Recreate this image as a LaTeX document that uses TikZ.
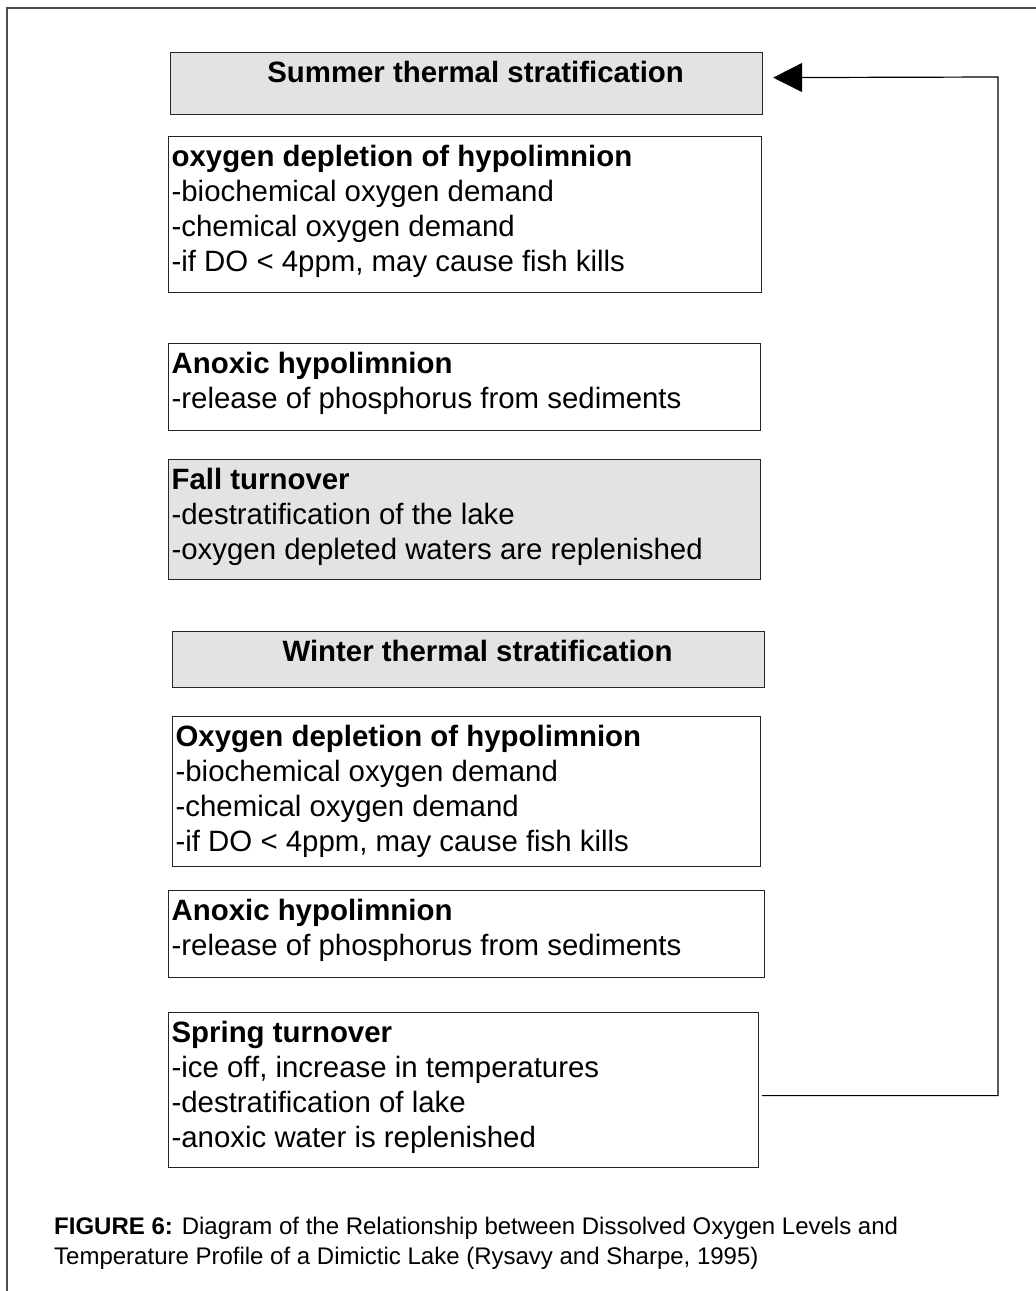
\documentclass[tikz,border=0pt]{standalone}
\usepackage{fontspec}
\setmainfont{Liberation Sans}
\usetikzlibrary{arrows.meta}

\newcommand{\stagetext}[3]{\parbox[t][#1][t]{#2}{\rule{0pt}{30pt}#3}}

\tikzset{
    stage/.style={draw=black!85, line width=1.2pt, anchor=north west, inner xsep=3pt, inner ysep=0pt, font=\fontsize{29.4pt}{35pt}\selectfont},
    season/.style={stage, fill=gray!22, text height=30pt, font=\fontsize{29.4pt}{35pt}\selectfont\bfseries},
    shaded/.style={fill=gray!22},
    caption/.style={anchor=north west, inner sep=0pt, align=left, font=\fontsize{24pt}{30pt}\selectfont},
    backarrow/.style={line width=1.2pt, -{Triangle[length=29pt,width=29pt]}},
    pageframe/.style={draw=black!70, line width=2pt}
}

\begin{document}
\begin{tikzpicture}[x=1pt,y=-1pt]
            \useasboundingbox (0,0) rectangle (1036,1291);
            \draw[pageframe] (7,1291) -- (7,8) -- (1036,8);
            % summer
            \node[season, minimum width=592pt, text depth=32pt] (sum) at (170,52) {\hspace*{18pt}Summer thermal stratification};
            \node[stage] (oxy1) at (168,136) {\stagetext{156pt}{587pt}{\textbf{oxygen depletion of hypolimnion}\\-biochemical oxygen demand\\-chemical oxygen demand\\-if DO < 4ppm, may cause fish kills}};
            \node[stage] (anox1) at (168,343) {\stagetext{87pt}{586pt}{\textbf{Anoxic hypolimnion}\\-release of phosphorus from sediments}};
            \node[stage, shaded] (fall) at (168,459) {\stagetext{120pt}{586pt}{\textbf{Fall turnover}\\-destratification of the lake\\-oxygen depleted waters are replenished}};
            % winter
            \node[season, minimum width=592pt, text depth=26pt] (win) at (172,631) {\hspace*{18pt}Winter thermal stratification};
            \node[stage] (oxy2) at (172,716) {\stagetext{150pt}{582pt}{\textbf{Oxygen depletion of hypolimnion}\\-biochemical oxygen demand\\-chemical oxygen demand\\-if DO < 4ppm, may cause fish kills}};
            \node[stage] (anox2) at (168,890) {\stagetext{87pt}{590pt}{\textbf{Anoxic hypolimnion}\\-release of phosphorus from sediments}};
            \node[stage] (spring) at (168,1012) {\stagetext{155pt}{584pt}{\textbf{Spring turnover}\\-ice off, increase in temperatures\\-destratification of lake\\-anoxic water is replenished}};
            % back to summer
            \coordinate (top) at (998,77);
            \draw[backarrow] ([xshift=3pt,yshift=-5.5pt]spring.east) -| (top) -- ([xshift=10pt,yshift=6pt]sum.east);
            \node[caption] (cap) at (54,1217) {\textbf{FIGURE 6:} Diagram of the Relationship between Dissolved Oxygen Levels and\\Temperature Profile of a Dimictic Lake (Rysavy and Sharpe, 1995)};
        \end{tikzpicture}
\end{document}
